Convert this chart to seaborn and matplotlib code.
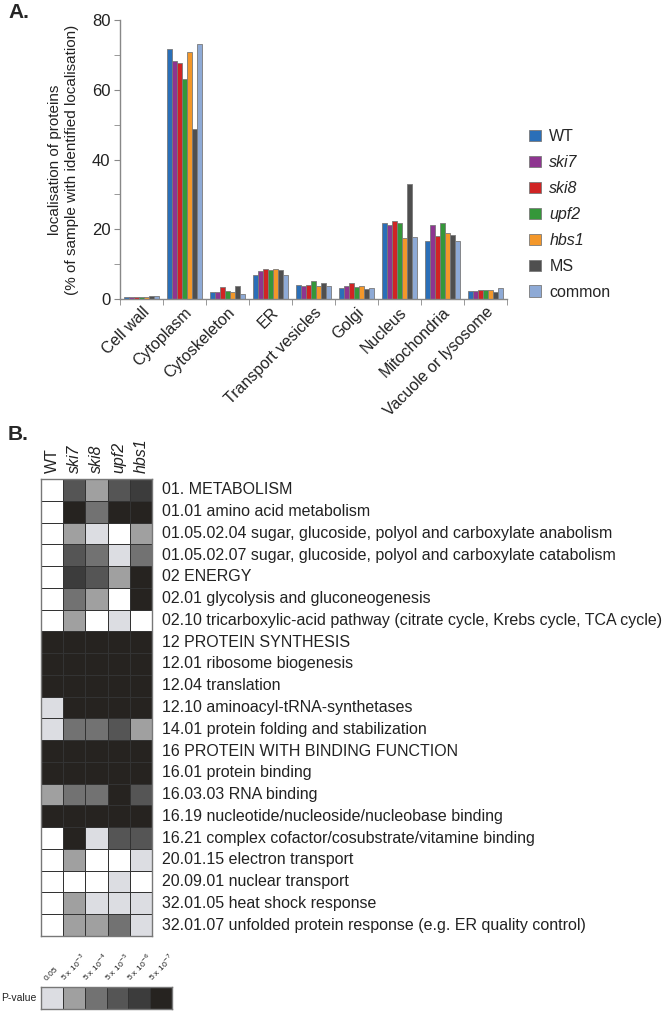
import numpy as np
import pandas as pd
import matplotlib.pyplot as plt
import seaborn as sns
from matplotlib.colors import ListedColormap
from matplotlib.patches import Patch

sns.set_style('white')
plt.rcParams['font.family'] = ['Liberation Sans', 'DejaVu Sans']

# --- panel A data ---
locations = ['Cell wall', 'Cytoplasm', 'Cytoskeleton', 'ER', 'Transport vesicles',
             'Golgi', 'Nucleus', 'Mitochondria', 'Vacuole or lysosome']
strains = ['WT', 'ski7', 'ski8', 'upf2', 'hbs1', 'MS', 'common']
strain_colors = ['#2a6fb8', '#8e3590', '#d02424', '#35973a', '#f3972a', '#4f4f4f', '#8eaad6']

wt = [0.5, 71.6, 2.1, 6.9, 4.1, 3.2, 21.9, 16.7, 2.3]
ski7 = [0.5, 68.2, 2.1, 7.9, 3.7, 3.8, 21.1, 21.1, 2.3]
ski8 = [0.5, 67.8, 3.5, 8.7, 4.0, 4.5, 22.3, 18.0, 2.7]
upf2 = [0.5, 63.2, 2.4, 8.2, 5.2, 3.4, 21.9, 21.9, 2.7]
hbs1 = [0.5, 70.7, 2.0, 8.7, 3.7, 3.7, 17.4, 19.0, 2.7]
ms = [0.8, 48.7, 3.8, 8.3, 4.5, 2.8, 33.0, 18.4, 2.0]
common = [0.8, 73.1, 1.3, 6.9, 3.8, 3.2, 17.7, 16.7, 3.1]

# --- panel B data ---
columns = ['WT', 'ski7', 'ski8', 'upf2', 'hbs1']
categories = [
    '01. METABOLISM',
    '01.01 amino acid metabolism',
    '01.05.02.04 sugar, glucoside, polyol and carboxylate anabolism',
    '01.05.02.07 sugar, glucoside, polyol and carboxylate catabolism',
    '02 ENERGY',
    '02.01 glycolysis and gluconeogenesis',
    '02.10 tricarboxylic-acid pathway (citrate cycle, Krebs cycle, TCA cycle)',
    '12 PROTEIN SYNTHESIS',
    '12.01 ribosome biogenesis',
    '12.04 translation',
    '12.10 aminoacyl-tRNA-synthetases',
    '14.01 protein folding and stabilization',
    '16 PROTEIN WITH BINDING FUNCTION',
    '16.01 protein binding',
    '16.03.03 RNA binding',
    '16.19 nucleotide/nucleoside/nucleobase binding',
    '16.21 complex cofactor/cosubstrate/vitamine binding',
    '20.01.15 electron transport',
    '20.09.01 nuclear transport',
    '32.01.05 heat shock response',
    '32.01.07 unfolded protein response (e.g. ER quality control)',
]
# significance level per cell: 0 = not significant, 1 = p<0.05 ... 6 = p<5x10^-7
levels = [
    [0, 4, 2, 4, 5],
    [0, 6, 3, 6, 6],
    [0, 2, 1, 0, 2],
    [0, 4, 3, 1, 3],
    [0, 5, 4, 2, 6],
    [0, 3, 2, 0, 6],
    [0, 2, 0, 1, 0],
    [6, 6, 6, 6, 6],
    [6, 6, 6, 6, 6],
    [6, 6, 6, 6, 6],
    [1, 6, 6, 6, 6],
    [1, 3, 3, 4, 2],
    [6, 6, 6, 6, 6],
    [6, 6, 6, 6, 6],
    [2, 3, 3, 6, 4],
    [6, 6, 6, 6, 6],
    [0, 6, 1, 4, 4],
    [0, 2, 0, 0, 1],
    [0, 0, 0, 1, 0],
    [0, 2, 1, 1, 1],
    [0, 2, 2, 3, 1],
]
pvalue_labels = ['0.05', r'5 x 10$^{-3}$', r'5 x 10$^{-4}$', r'5 x 10$^{-5}$',
                 r'5 x 10$^{-6}$', r'5 x 10$^{-7}$']
level_colors = ['#ffffff', '#dcdde2', '#a0a0a0', '#727272', '#555555', '#3c3c3c', '#262320']

italic = {'ski7', 'ski8', 'upf2', 'hbs1'}

W, H = 666, 1011
fig = plt.figure(figsize=(W / 100, H / 100), dpi=100)


def box(x0, y0, x1, y1):
    return [x0 / W, 1 - y1 / H, (x1 - x0) / W, (y1 - y0) / H]


# ---------------- Panel A ----------------
ax = fig.add_axes(box(120, 20, 507, 299))
df = pd.DataFrame({'location': np.repeat(locations, len(strains)),
                   'strain': strains * len(locations),
                   'value': np.array([wt, ski7, ski8, upf2, hbs1, ms, common]).T.ravel()})
sns.barplot(data=df, x='location', y='value', hue='strain', hue_order=strains,
            palette=strain_colors, width=0.83, edgecolor='#7a7a7a', linewidth=0.6,
            saturation=1, ax=ax, legend=False)
ax.set_xlim(-0.5, 8.5)
ax.set_ylim(0, 80)
ax.set_yticks([0, 20, 40, 60, 80])
ax.set_yticks([10, 30, 50, 70], minor=True)
ax.tick_params(axis='y', which='both', left=True, length=4, color='#888888',
               labelsize=12, labelcolor='#222222', pad=3)
ax.set_xticks(np.arange(9))
ax.set_xticks(np.arange(-0.5, 9, 1), minor=True)
ax.tick_params(axis='x', which='major', length=0, pad=4)
ax.tick_params(axis='x', which='minor', bottom=True, length=4, color='#888888')
ax.set_xticklabels(locations, rotation=45, ha='right', rotation_mode='anchor',
                   fontsize=11.5, color='#222222')
ax.set_xlabel('')
ax.set_ylabel('localisation of proteins\n(% of sample with identified localisation)',
              fontsize=11, color='#222222', linespacing=1.35)
ax.yaxis.set_label_coords(-0.105, 0.5)
sns.despine(ax=ax)
for s in ['left', 'bottom']:
    ax.spines[s].set_color('#888888')
    ax.spines[s].set_linewidth(1)

handles = [Patch(facecolor=c, edgecolor='#7a7a7a', linewidth=0.6) for c in strain_colors]
leg = fig.legend(handles, strains, loc='upper left', bbox_to_anchor=(515 / W, 1 - 115 / H),
                 frameon=False, fontsize=11.5, handlelength=0.7, handleheight=0.7,
                 handletextpad=0.55, labelspacing=0.68)
for t in leg.get_texts():
    if t.get_text() in italic:
        t.set_fontstyle('italic')

fig.text(8 / W, 1 - 12 / H, 'A.', fontsize=15, fontweight='bold', va='center')

# ---------------- Panel B ----------------
cmap = ListedColormap(level_colors)
ax2 = fig.add_axes(box(41, 479, 152, 936))
sns.heatmap(np.array(levels), cmap=cmap, vmin=-0.5, vmax=6.5, cbar=False,
            linewidths=0.6, linecolor='#333333', ax=ax2,
            xticklabels=columns, yticklabels=categories)
ax2.xaxis.tick_top()
ax2.yaxis.tick_right()
ax2.tick_params(length=0)
ax2.tick_params(axis='y', pad=7)
ax2.tick_params(axis='x', pad=4)
ax2.set_xticklabels(columns, rotation=90, fontsize=11.5, va='bottom', color='#222222')
for t in ax2.get_xticklabels():
    if t.get_text() in italic:
        t.set_fontstyle('italic')
ax2.set_yticklabels(categories, rotation=0, fontsize=11.5, va='center', color='#222222')
for s in ax2.spines.values():
    s.set_visible(True)
    s.set_color('#777777')
    s.set_linewidth(1)

fig.text(8 / W, 1 - 434 / H, 'B.', fontsize=15, fontweight='bold', va='center')

# P-value key
ax3 = fig.add_axes(box(41, 987, 172, 1009))
sns.heatmap(np.array([[1, 2, 3, 4, 5, 6]]), cmap=cmap, vmin=-0.5, vmax=6.5, cbar=False,
            linewidths=0.6, linecolor='#333333', ax=ax3,
            xticklabels=pvalue_labels, yticklabels=False)
ax3.xaxis.tick_top()
ax3.tick_params(length=0, pad=3)
ax3.set_xticklabels(pvalue_labels, rotation=45, fontsize=6, ha='center', va='bottom',
                    color='#222222')
for s in ax3.spines.values():
    s.set_visible(True)
    s.set_color('#777777')
    s.set_linewidth(1)
fig.text(1 / W, 1 - 998 / H, 'P-value', fontsize=7.5, va='center', color='#222222')

fig.savefig('out.png', dpi=100)
